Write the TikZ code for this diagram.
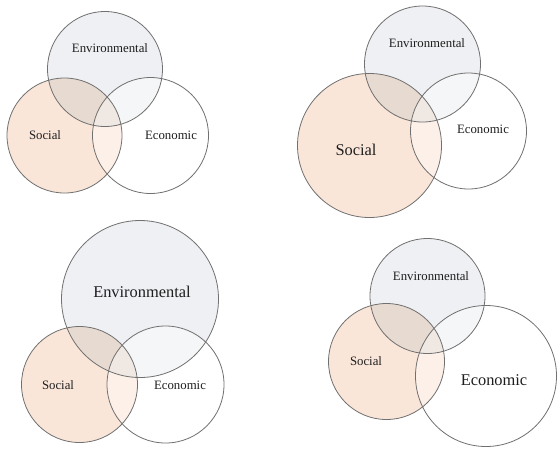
\documentclass[tikz,border=0pt]{standalone}
\usepackage{fontspec}
\setmainfont{Liberation Serif}
\definecolor{envfill}{HTML}{EFF0F3}
\definecolor{socfill}{HTML}{FAE6D9}
\definecolor{ovfill}{HTML}{E7DAD1}
\definecolor{edge}{HTML}{707070}
\definecolor{txt}{HTML}{1E1E1E}
\tikzset{
  ring/.style={draw=edge, line width=0.8pt},
  smalllab/.style={text=txt, font=\fontsize{12.8}{14}\selectfont, inner sep=0pt},
  biglab/.style={text=txt, font=\fontsize{16.4}{18}\selectfont, inner sep=0pt},
}
% #1,#2,#3 env x y r; #4,#5,#6 social; #7,#8,#9 economic
\newcommand{\myvenn}[9]{%
  \fill[envfill] (#1,#2) circle[radius=#3];
  \fill[socfill] (#4,#5) circle[radius=#6];
  \begin{scope}
    \clip (#4,#5) circle[radius=#6];
    \fill[ovfill] (#1,#2) circle[radius=#3];
  \end{scope}
  \fill[white, fill opacity=0.4] (#7,#8) circle[radius=#9];
  \draw[ring] (#1,#2) circle[radius=#3];
  \draw[ring] (#4,#5) circle[radius=#6];
  \draw[ring] (#7,#8) circle[radius=#9];
}
\begin{document}
\begin{tikzpicture}[x=1pt, y=-1pt]
\useasboundingbox (0,0) rectangle (557,448);
\fill[white] (0,0) rectangle (557,448);
% top-left
\myvenn{105}{69}{57.5}{64.5}{135.5}{57.5}{150.5}{135.5}{58}
\node[smalllab] (tlenv) at (110,48) {Environmental};
\node[smalllab] (tlsoc) at (45,135) {Social};
\node[smalllab] (tleco) at (171,135) {Economic};
% top-right
\myvenn{422.5}{64}{58}{369.5}{145.5}{72}{468.5}{131}{58}
\node[smalllab] (trenv) at (427,43) {Environmental};
\node[biglab] (trsoc) at (356,150) {Social};
\node[smalllab] (treco) at (483,129) {Economic};
% bottom-left
\myvenn{140}{299}{78.5}{79.5}{384.5}{58}{165.5}{384.5}{58.5}
\node[biglab] (blenv) at (142,292) {Environmental};
\node[smalllab] (blsoc) at (58,385) {Social};
\node[smalllab] (bleco) at (180,385) {Economic};
% bottom-right
\myvenn{427.5}{296}{57.5}{386.5}{361.5}{58}{486}{376}{70.5}
\node[smalllab] (brenv) at (431,276) {Environmental};
\node[smalllab] (brsoc) at (366,361) {Social};
\node[biglab] (breco) at (494,380) {Economic};
\end{tikzpicture}
\end{document}
